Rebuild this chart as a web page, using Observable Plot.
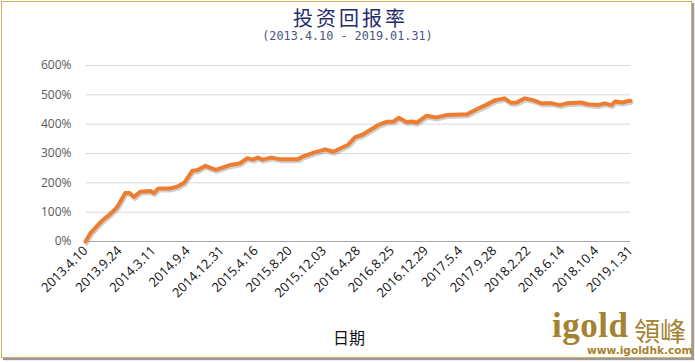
<!DOCTYPE html>
<html><head><meta charset="utf-8">
<script src="https://cdn.jsdelivr.net/npm/d3@7"></script>
<script src="https://cdn.jsdelivr.net/npm/@observablehq/plot@0.6"></script>
<style>
body{margin:0;background:#fff;}
#frame{position:absolute;left:1px;top:1px;width:691px;height:357px;border:1.5px solid #d6b06a;box-sizing:border-box;box-shadow:2px 2px 1px #9a9a9a;background:#fff;overflow:hidden;}
#chart{position:absolute;left:0;top:0;}
.t{position:absolute;white-space:nowrap;}
</style></head>
<body>
<div id="frame"></div>
<div id="chart"></div>
<div class="t" style="left:3px;width:695px;top:6px;line-height:24px;text-align:center;font-family:'Noto Sans CJK SC';font-size:20px;color:#1f2d6b;letter-spacing:3px;">投资回报率</div>
<div class="t" style="left:0;width:695px;top:30px;line-height:13px;text-align:center;font-family:'DejaVu Sans Mono';font-size:11.8px;color:#4a5580;">(2013.4.10 - 2019.01.31)</div>
<div class="t" style="left:333px;top:325px;font-family:'Noto Sans CJK SC';font-size:16px;color:#111;">日期</div>
<div class="t" style="left:552px;top:308px;font-family:'Liberation Serif';font-weight:bold;font-size:35px;color:#a5822f;letter-spacing:0.5px;line-height:35px;">igold</div>
<div class="t" style="left:634px;top:316px;font-family:'Noto Sans CJK TC';font-size:26px;color:#a5822f;line-height:27px;">領峰</div>
<div class="t" style="left:587px;top:344px;line-height:12px;font-family:'DejaVu Sans';font-weight:bold;font-size:10.6px;color:#a5822f;">www.igoldhk.com</div>
<script>
const tickLabels = ["2013.4.10","2013.9.24","2014.3.11","2014.9.4","2014.12.31","2015.4.16","2015.8.20","2015.12.03","2016.4.28","2016.8.25","2016.12.29","2017.5.4","2017.9.28","2018.2.22","2018.6.14","2018.10.4","2019.1.31"];
// position along the date axis (0..1 of axis length) and return (%)
const pos = [0,0.009,0.022,0.033,0.046,0.058,0.073,0.081,0.089,0.101,0.119,0.125,0.134,0.156,0.168,0.181,0.196,0.206,0.22,0.239,0.266,0.284,0.297,0.307,0.316,0.325,0.341,0.358,0.389,0.398,0.419,0.44,0.455,0.468,0.482,0.495,0.508,0.523,0.538,0.552,0.565,0.575,0.589,0.6,0.608,0.626,0.644,0.662,0.7,0.717,0.734,0.752,0.769,0.78,0.79,0.806,0.821,0.837,0.856,0.871,0.883,0.909,0.922,0.939,0.953,0.965,0.972,0.985,0.994,1];
const ret = [0,28,55,75,95,117,165,165,152,170,172,165,181,181,187,200,241,244,258,244,261,267,284,279,286,279,286,280,280,289,303,314,306,318,330,356,364,381,398,408,409,422,407,409,405,429,423,431,434,450,465,482,488,473,473,488,482,471,471,465,471,474,468,465,471,465,477,474,478,480];
const data = pos.map((p,i)=>({x:p*(tickLabels.length-1), y:ret[i]}));
const yTicks = [0,100,200,300,400,500,600];
const chart = Plot.plot({
  width:695, height:362,
  marginLeft:85, marginRight:65, marginTop:65, marginBottom:121,
  style:{background:"transparent", fontFamily:"'Open Sans'"},
  x:{domain:[0,tickLabels.length-1], label:null},
  y:{domain:[0,600], label:null},
  marks:[
    Plot.gridY(yTicks.slice(1), {stroke:"#d9d9d9", strokeOpacity:1, strokeWidth:1}),
    Plot.ruleY([0], {stroke:"#a6a6a6", strokeWidth:1}),
    Plot.axisY({ticks:yTicks, tickFormat:d=>d+"%", tickSize:0, tickPadding:14, fill:"#595959", fontSize:12, label:null}),
    Plot.axisX({ticks:d3.range(tickLabels.length), tickFormat:i=>tickLabels[i], tickRotate:-45, tickSize:0, tickPadding:7, fill:"#111", fontSize:13, label:null}),
    Plot.line(data, {x:"x", y:"y", stroke:"#888", strokeOpacity:0.4, strokeWidth:4, dx:1, dy:2}),
    Plot.line(data, {x:"x", y:"y", stroke:"#ed7d31", strokeWidth:4, strokeLinejoin:"round", strokeLinecap:"round"})
  ]
});
document.getElementById("chart").appendChild(chart);
</script>
</body></html>
